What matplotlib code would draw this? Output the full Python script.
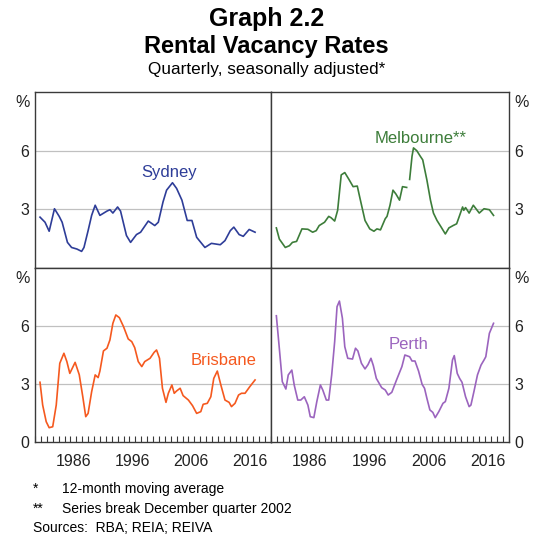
import numpy as np
import matplotlib.pyplot as plt
from matplotlib.ticker import MultipleLocator

plt.rcParams['font.family'] = ['Liberation Sans', 'DejaVu Sans']

# Rental vacancy rates, per cent
syd_years = [1980.85, 1981.7, 1982.4, 1983.3, 1984.1, 1984.6, 1985.5, 1986.2, 1987.1, 1987.9,
             1988.3, 1989.0, 1989.6, 1990.2, 1991.0, 1992.2, 1992.7, 1993.2, 1994.0, 1994.5,
             1995.5, 1996.2, 1997.2, 1997.9, 1999.2, 2000.3, 2000.9, 2001.7, 2002.3, 2003.3,
             2004.0, 2004.9, 2005.8, 2006.6, 2007.4, 2008.8, 2009.9, 2011.4, 2012.2, 2013.1,
             2013.7, 2014.6, 2015.3, 2016.3, 2017.3]
syd_vals = [2.6, 2.34, 1.88, 3.03, 2.64, 2.34, 1.31, 1.05, 0.97, 0.85,
            1.05, 1.91, 2.69, 3.21, 2.69, 2.91, 2.98, 2.81, 3.12, 2.91,
            1.66, 1.31, 1.71, 1.83, 2.40, 2.17, 2.34, 3.38, 3.98, 4.36,
            4.07, 3.47, 2.43, 2.43, 1.57, 1.05, 1.26, 1.19, 1.40, 1.91,
            2.09, 1.71, 1.62, 1.97, 1.83]

# series break December quarter 2002 -> nan between the two parts
mel_years = [1980.9, 1981.4, 1982.4, 1983.1, 1983.6, 1984.3, 1985.2, 1986.2, 1987.0, 1987.6,
             1988.1, 1989.0, 1989.7, 1990.1, 1990.7, 1991.2, 1991.8, 1992.4, 1993.1, 1993.8,
             1994.5, 1994.9, 1995.8, 1996.6, 1997.3, 1997.8, 1998.4, 1999.2, 1999.5, 2000.0,
             2000.5, 2001.0, 2001.6, 2002.1, 2002.8, 2003.0,
             2003.3, 2003.7, 2003.95, 2004.5, 2005.1, 2005.5, 2006.2, 2006.8, 2007.3, 2007.9,
             2008.6, 2009.3, 2009.9, 2010.6, 2011.2, 2011.6, 2012.2, 2012.4, 2012.7, 2013.3,
             2014.0, 2015.0, 2015.8, 2016.7, 2017.4]
mel_vals = [2.05, 1.48, 1.05, 1.14, 1.31, 1.36, 2.0, 1.98, 1.83, 1.91,
            2.17, 2.34, 2.64, 2.57, 2.40, 2.95, 4.76, 4.88, 4.53, 4.16,
            4.19, 3.64, 2.43, 2.0, 1.88, 2.0, 1.95, 2.52, 2.64, 3.21,
            3.98, 3.78, 3.47, 4.16, 4.12, np.nan,
            4.53, 5.71, 6.14, 6.0, 5.71, 5.53, 4.5, 3.47, 2.81, 2.43,
            2.09, 1.74, 2.05, 2.17, 2.26, 2.6, 3.12, 2.95, 3.09, 2.81,
            3.21, 2.81, 3.03, 2.98, 2.69]

bri_years = [1980.85, 1981.3, 1981.9, 1982.4, 1983.0, 1983.6, 1984.2, 1984.9, 1985.4, 1985.9,
             1986.8, 1987.5, 1988.1, 1988.6, 1989.0, 1989.6, 1990.2, 1990.7, 1991.0, 1991.6,
             1992.2, 1992.7, 1993.2, 1993.7, 1994.3, 1995.0, 1995.8, 1996.4, 1996.9, 1997.5,
             1998.1, 1998.6, 1999.5, 2000.2, 2000.6, 2001.1, 2001.6, 2002.2, 2002.6, 2003.2,
             2003.6, 2004.0, 2004.6, 2005.1, 2006.0, 2006.7, 2007.4, 2008.1, 2008.5, 2009.2,
             2009.8, 2010.3, 2010.9, 2011.5, 2012.2, 2012.9, 2013.3, 2013.9, 2014.5, 2015.0,
             2015.6, 2016.4, 2017.3]
bri_vals = [3.09, 1.91, 1.05, 0.74, 0.79, 1.91, 4.07, 4.59, 4.16, 3.55,
            4.12, 3.48, 2.34, 1.31, 1.48, 2.6, 3.47, 3.33, 3.67, 4.71,
            4.85, 5.28, 6.14, 6.57, 6.43, 5.97, 5.33, 5.19, 4.88, 4.16,
            3.9, 4.16, 4.33, 4.64, 4.76, 4.33, 2.78, 2.05, 2.52, 2.95,
            2.52, 2.64, 2.78, 2.4, 2.17, 1.88, 1.48, 1.57, 1.95, 2.0,
            2.34, 3.29, 3.67, 2.95, 2.17, 2.05, 1.83, 2.0, 2.43, 2.52,
            2.52, 2.86, 3.21]

per_years = [1980.9, 1981.4, 1981.9, 1982.5, 1982.9, 1983.5, 1983.9, 1984.5, 1985.0, 1985.6,
             1986.2, 1986.6, 1987.2, 1987.7, 1988.3, 1988.7, 1989.3, 1989.7, 1990.2, 1990.7,
             1991.1, 1991.5, 1992.0, 1992.4, 1992.9, 1993.7, 1994.2, 1994.6, 1995.2, 1995.8,
             1996.3, 1996.8, 1997.2, 1997.7, 1998.6, 1999.2, 1999.7, 2000.3, 2001.1, 2002.0,
             2002.5, 2003.3, 2003.7, 2004.2, 2004.8, 2005.4, 2005.8, 2006.2, 2006.7, 2007.2,
             2007.6, 2008.2, 2008.9, 2009.3, 2009.9, 2010.5, 2010.8, 2011.3, 2011.7, 2012.1,
             2012.7, 2013.3, 2013.6, 2014.1, 2014.7, 2015.3, 2015.8, 2016.1, 2016.7, 2017.4]
per_vals = [6.53, 4.84, 3.12, 2.74, 3.47, 3.72, 2.95, 2.17, 2.17, 2.34,
            1.91, 1.31, 1.26, 2.09, 2.95, 2.69, 2.17, 2.17, 3.47, 5.19,
            7.0, 7.29, 6.4, 4.93, 4.33, 4.29, 4.85, 4.71, 4.07, 3.78,
            4.0, 4.33, 3.95, 3.29, 2.81, 2.69, 2.43, 2.57, 3.21, 3.9,
            4.5, 4.41, 4.19, 4.19, 3.67, 2.98, 2.78, 2.26, 1.66, 1.53,
            1.26, 1.57, 2.0, 2.09, 2.78, 4.24, 4.47, 3.55, 3.29, 3.09,
            2.34, 1.83, 1.91, 2.6, 3.47, 3.98, 4.24, 4.41, 5.62, 6.14]

tick_years = [1986, 1996, 2006, 2016]

fig = plt.figure(figsize=(5.33, 5.4), dpi=100)
W, H = 533, 540


def box(x0, y0, x1, y1):
    return [x0 / W, 1 - y1 / H, (x1 - x0) / W, (y1 - y0) / H]


ax_syd = fig.add_axes(box(35, 92, 271, 268))
ax_mel = fig.add_axes(box(271, 92, 509, 268))
ax_bri = fig.add_axes(box(35, 268, 271, 442))
ax_per = fig.add_axes(box(271, 268, 509, 442))

panels = [
    (ax_syd, syd_years, syd_vals, '#2E3D98', 'Sydney', 2002.7, 4.65, 'left', False),
    (ax_mel, mel_years, mel_vals, '#3D7D3A', 'Melbourne**', 2005.2, 6.4, 'right', False),
    (ax_bri, bri_years, bri_vals, '#F5591F', 'Brisbane', 2012.0, 3.98, 'left', True),
    (ax_per, per_years, per_vals, '#9B64BE', 'Perth', 2003.2, 4.81, 'right', True),
]

for ax, xs, ys, col, name, lx, ly, side, bottom in panels:
    ax.set_xlim(1980, 2020)
    ax.set_ylim(0, 9)
    for g in (3, 6):
        ax.axhline(g, color='#c0c0c0', lw=0.9, zorder=0)
    ax.plot(xs, ys, color=col, lw=1.2, zorder=2)
    ax.text(lx, ly, name, color=col, fontsize=12, ha='center', va='baseline')

    for s in ax.spines.values():
        s.set_color('#3a3a3a')
        s.set_linewidth(1.0)

    if bottom:
        yt, yl = [0, 3, 6, 8.55], ['0', '3', '6', '%']
    else:
        yt, yl = [3, 6, 8.55], ['3', '6', '%']
    ax.set_yticks(yt)
    ax.set_yticklabels(yl)
    if side == 'right':
        ax.yaxis.tick_right()
    ax.tick_params(axis='y', length=0, pad=4, labelsize=11.5, colors='#222222')

    if bottom:
        ax.set_xticks([y + 0.5 for y in tick_years])
        ax.set_xticklabels([str(y) for y in tick_years])
        ax.xaxis.set_minor_locator(MultipleLocator(1))
        ax.tick_params(axis='x', which='major', length=0, pad=9, labelsize=11.5, colors='#222222')
        ax.tick_params(axis='x', which='minor', direction='in', length=4, width=0.8, color='#3a3a3a')
    else:
        ax.set_xticks([])

# titles
fig.text(0.5, 1 - 26 / H, 'Graph 2.2', ha='center', va='baseline', fontsize=18, fontweight='bold')
fig.text(0.5, 1 - 53 / H, 'Rental Vacancy Rates', ha='center', va='baseline', fontsize=17, fontweight='bold')
fig.text(0.5, 1 - 74 / H, 'Quarterly, seasonally adjusted*', ha='center', va='baseline', fontsize=12.3)

# footnotes
fig.text(33 / W, 1 - 493 / H, '*', fontsize=10, va='baseline')
fig.text(62 / W, 1 - 493 / H, '12-month moving average', fontsize=10, va='baseline')
fig.text(33 / W, 1 - 513 / H, '**', fontsize=10, va='baseline')
fig.text(62 / W, 1 - 513 / H, 'Series break December quarter 2002', fontsize=10, va='baseline')
fig.text(33 / W, 1 - 532 / H, 'Sources:  RBA; REIA; REIVA', fontsize=10, va='baseline')

fig.savefig('out.png', dpi=100)
